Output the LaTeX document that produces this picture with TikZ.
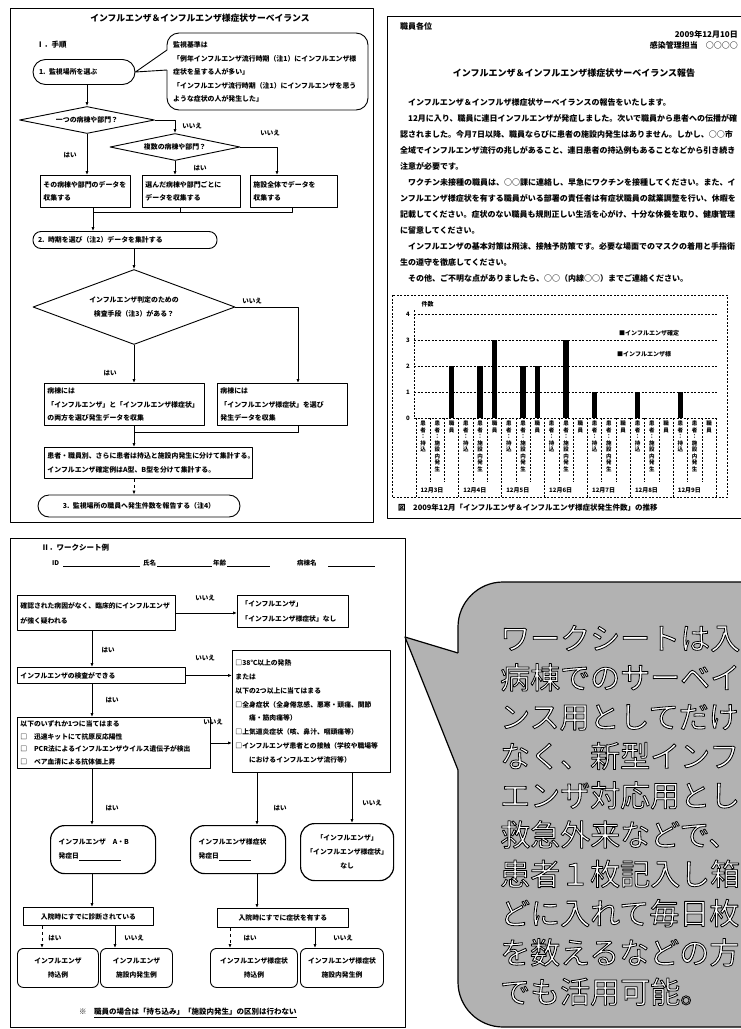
\documentclass[tikz,border=0pt]{standalone}
\usepackage{fontspec}
\setmainfont{Noto Sans CJK JP}
\usetikzlibrary{shapes.geometric,shapes.misc,arrows.meta}
\newcommand{\catA}{患\\者\\：\\持\\込}
\newcommand{\catB}{患\\者\\：\\施\\設\\内\\発\\生}
\newcommand{\catC}{職\\員}
\begin{document}
\begin{tikzpicture}[x=1pt,y=-1pt,line join=round,
  ln/.style={line width=0.9pt},
  frm/.style={line width=0.8pt},
  ftx/.style={font=\fontsize{6.9}{13.5}\selectfont\bfseries},
  bx/.style={draw,line width=0.9pt,anchor=north west,inner xsep=3pt,inner ysep=0pt,align=left,ftx},
  wbx/.style={bx,font=\fontsize{6.8}{13.3}\selectfont\bfseries},
  lbl/.style={font=\fontsize{6.5}{7}\selectfont\bfseries,inner sep=1pt},
  arr/.style={line width=0.8pt,-{Latex[length=4pt,width=3.2pt]}},
  dsh/.style={line width=0.6pt,dash pattern=on 2pt off 1.5pt},
  rtx/.style={font=\fontsize{8}{16}\selectfont\bfseries,inner sep=0pt},
  cat/.style={anchor=north,align=center,inner sep=0pt,font=\fontsize{5.5}{6.5}\selectfont\bfseries},
  dia/.style={draw,diamond,line width=0.9pt,inner sep=0pt}]
\useasboundingbox (0,0) rectangle (741,1029);
\clip (0,0) rectangle (741,1029);
\fill[white] (0,0) rectangle (741,1029);

% ================= top-left panel =================
\draw[frm] (10,8) rectangle (373,522);
\node[font=\fontsize{8.8}{10}\selectfont\bfseries] (t1) at (200,18) {インフルエンザ＆インフルエンザ様症状サーベイランス};
\node[font=\fontsize{7.5}{9}\selectfont\bfseries,anchor=west] (h1) at (33,45) {Ⅰ．手順};

\node[draw,ln,rectangle,rounded corners=12.5pt,minimum width=102pt,minimum height=25pt,text width=90pt,inner xsep=6pt,inner ysep=0pt,align=left,ftx] (s1) at (84,72) {1. 監視場所を選ぶ};
\draw[ln,rounded corners=12pt] (167,70) -- (167,110) -- (368,110) -- (368,33) -- (167,33) -- (167,50);
\draw[ln] (167,50) -- (s1.east) -- (167,70);
\node[ftx,anchor=west,align=left,inner sep=0pt] (cot) at (173,72) {監視基準は\\「例年インフルエンザ流行時期（注1）にインフルエンザ様\\症状を呈する人が多い」\\「インフルエンザ流行時期（注1）にインフルエンザを思う\\ような症状の人が発生した」};

\node[dia,minimum width=135pt,minimum height=27pt,label={[ftx]center:一つの病棟や部門？}] (d1) at (87,120) {};
\node[dia,minimum width=130pt,minimum height=27pt,label={[ftx]center:複数の病棟や部門？}] (d2) at (175,147) {};

\node[bx,minimum width=90pt,minimum height=32pt,text width=84pt] (b1) at (40,175) {その病棟や部門のデータを\\収集する};
\node[bx,minimum width=98pt,minimum height=32pt,text width=92pt] (b2) at (142,175) {選んだ病棟や部門ごとに\\データを収集する};
\node[bx,minimum width=87pt,minimum height=32pt,text width=81pt] (b3) at (250,175) {施設全体でデータを\\収集する};

\coordinate (x3) at (277,0);
\draw[arr] (s1.south -| d1.north) -- (d1.north);
\draw[arr] (d1.east) -| (d2.north);
\draw[arr] (d1.south) -- (d1.south |- b1.north);
\draw[arr] (d2.south) -- (d2.south |- b2.north);
\draw[arr] (d2.east) -| (x3 |- b3.north);
\node[lbl] (l1) at (192,126) {いいえ};
\node[lbl] (l2) at (270,133) {いいえ};
\node[lbl] (l3) at (70,155) {はい};
\node[lbl] (l4) at (200,168) {はい};

\node[draw,ln,rectangle,rounded corners=8pt,minimum width=184pt,minimum height=17pt,text width=174pt,inner xsep=5pt,inner ysep=0pt,align=left,ftx] (s2) at (125,240) {2. 時期を選び（注2）データを集計する};
\coordinate (m1) at (93,212);
\coordinate (x2b) at (180,0);
\coordinate (x3b) at (292,0);
\draw[ln] (b3.south -| x3b) -- (x3b |- m1) -- (m1);
\draw[ln] (b2.south -| x2b) -- (x2b |- m1);
\draw[arr] (b1.south -| m1) -- (s2.north -| m1);

\node[dia,minimum width=202pt,minimum height=75pt,label={[ftx,align=center]center:インフルエンザ判定のための\\検査手段（注3）がある？}] (d3) at (134,307) {};
\draw[arr] (s2.south -| d3.north) -- (d3.north);

\node[bx,minimum width=160pt,minimum height=42pt,text width=154pt] (bl) at (44,383) {病棟には\\「インフルエンザ」と「インフルエンザ様症状」\\の両方を選び発生データを収集};
\node[bx,minimum width=130pt,minimum height=42pt,text width=124pt] (br) at (217,383) {病棟には\\「インフルエンザ様症状」を選び\\発生データを収集};
\coordinate (xr) at (298,0);
\draw[arr] (d3.east) -| (xr |- br.north);
\draw[arr] (d3.south) -- (d3.south |- bl.north);
\node[lbl] (l5) at (252,301) {いいえ};
\node[lbl] (l6) at (110,373) {はい};

\node[bx,minimum width=208pt,minimum height=31pt,text width=202pt] (b4) at (44,447) {患者・職員別、さらに患者は持込と施設内発生に分けて集計する。\\インフルエンザ確定例はA型、B型を分けて集計する。};
\coordinate (m2) at (134,432);
\draw[ln] (br.south -| xr) -- (xr |- m2) -- (m2);
\draw[arr] (bl.south -| m2) -- (b4.north -| m2);
\node[draw,ln,rectangle,rounded corners=11pt,minimum width=202pt,minimum height=22pt,text width=190pt,inner xsep=6pt,inner ysep=0pt,align=center,ftx] (s3) at (139,506) {3. 監視場所の職員へ発生件数を報告する（注4）};
\draw[arr,dashed] (b4.south -| m2) -- (s3.north -| m2);

% ================= top-right panel =================
\draw[frm] (387,16) -- (745,16);
\draw[frm] (745,518) -- (387,518) -- (387,16);
\node[rtx,anchor=west] (r0) at (400,26) {職員各位};
\node[rtx,anchor=east] (r1) at (738,34) {2009年12月10日};
\node[rtx,anchor=east] (r2) at (738,45) {感染管理担当　○○○○};
\node[font=\fontsize{9}{10}\selectfont\bfseries] (r3) at (574,73) {インフルエンザ＆インフルエンザ様症状サーベイランス報告};
\node[rtx,anchor=north west,align=left] (body) at (400,98) {　インフルエンザ＆インフルザ様症状サーベイランスの報告をいたします。\\
　12月に入り、職員に連日インフルエンザが発症しました。次いで職員から患者への伝播が確\\
認されました。今月7日以降、職員ならびに患者の施設内発生はありません。しかし、○○市\\
全域でインフルエンザ流行の兆しがあること、連日患者の持込例もあることなどから引き続き\\
注意が必要です。\\
　ワクチン未接種の職員は、○○課に連絡し、早急にワクチンを接種してください。また、イ\\
ンフルエンザ様症状を有する職員がいる部署の責任者は有症状職員の就業調整を行い、休暇を\\
記載してください。症状のない職員も規則正しい生活を心がけ、十分な休養を取り、健康管理\\
に留意してください。\\
　インフルエンザの基本対策は飛沫、接触予防策です。必要な場面でのマスクの着用と手指衛\\
生の遵守を徹底してください。\\
　その他、ご不明な点がありましたら、○○（内線○○）までご連絡ください。};

% chart
\draw[dsh] (392,295) rectangle (727,497);
\node[font=\fontsize{6}{7}\selectfont\bfseries,anchor=west] (unit) at (418,304) {件数};
\foreach \v in {0,...,4} {
  \draw[dsh] (414,418-26*\v) -- (717,418-26*\v);
  \node[font=\fontsize{6}{7}\selectfont\bfseries,anchor=east,inner sep=1pt] (yl\v) at (411,418-26*\v) {\v};
}
\draw[dsh] (414,310) -- (414,418);
\foreach \j in {0,...,21} {\draw[dsh] (415.85+14.3*\j,418) -- (415.85+14.3*\j,482);}
\foreach \g in {0,...,7} {\draw[dsh] (415.85+42.9*\g,418) -- (415.85+42.9*\g,497);}
\foreach \j/\v in {2/2,4/2,5/3,7/2,8/2,10/3,12/1,15/1,18/1} {
  \fill (423+14.3*\j-2.8,418) rectangle (423+14.3*\j+2.8,418-26*\v);
}
\foreach \g in {0,...,6} {
  \node[cat] (ca\g) at (423+42.9*\g,421) {\catA};
  \node[cat] (cb\g) at (437.3+42.9*\g,421) {\catB};
  \node[cat] (cc\g) at (451.6+42.9*\g,421) {\catC};
}
\foreach \g/\dnum in {0/3,1/4,2/5,3/6,4/7,5/8,6/9} {
  \node[font=\fontsize{6}{7}\selectfont\bfseries,inner sep=1pt] (dt\g) at (432+42.9*\g,490) {12月\dnum 日};
}
\node[font=\fontsize{6}{7}\selectfont\bfseries,anchor=west,fill=white,inner sep=1pt] (lg1) at (618,333) {■インフルエンザ確定};
\node[font=\fontsize{6}{7}\selectfont\bfseries,anchor=west,fill=white,inner sep=1pt] (lg2) at (616,354) {■インフルエンザ様};
\node[font=\fontsize{7.5}{9}\selectfont\bfseries,anchor=west,inner sep=0pt] (cap) at (398,508) {図　2009年12月「インフルエンザ＆インフルエンザ様症状発生件数」の推移};

% ================= bottom-left panel =================
\draw[frm] (10,538) rectangle (405,1027);
\node[font=\fontsize{7.5}{9}\selectfont\bfseries,anchor=west] (h2) at (38,548) {Ⅱ．ワークシート例};
\node[lbl,anchor=west] (id) at (51,563) {ID};
\draw[line width=0.7pt] (63,566) -- (140,566);
\node[lbl,anchor=west] (nm) at (142,563) {氏名};
\draw[line width=0.7pt] (157,566) -- (212,566);
\node[lbl,anchor=west] (ag) at (212,563) {年齢};
\draw[line width=0.7pt] (227,566) -- (270,566);
\node[lbl,anchor=west] (wd) at (296,563) {病棟名};
\draw[line width=0.7pt] (328,566) -- (375,566);

\node[wbx,minimum width=158pt,minimum height=35pt,text width=152pt,font=\fontsize{6.8}{15}\selectfont\bfseries] (wa) at (17,595) {確認された病因がなく、臨床的にインフルエンザ\\が強く疑われる};
\node[wbx,minimum width=111pt,minimum height=32pt,text width=103pt,inner xsep=4pt,font=\fontsize{6.8}{15}\selectfont\bfseries] (wb) at (237,595) {「インフルエンザ」\\「インフルエンザ様症状」なし};
\node[wbx,minimum width=168pt,minimum height=16pt,text width=162pt] (wc) at (17,667) {インフルエンザの検査ができる};
\node[wbx,minimum width=158pt,minimum height=122pt,text width=152pt,font=\fontsize{6.8}{13.8}\selectfont\bfseries] (wdx) at (232,650) {□38℃以上の発熱\\または\\以下の2つ以上に当てはまる\\□全身症状（全身倦怠感、悪寒・頭痛、関節\\　　痛・筋肉痛等）\\□上気道炎症状（咳、鼻汁、咽頭痛等）\\□インフルエンザ患者との接触（学校や職場等\\　　におけるインフルエンザ流行等）};
\node[wbx,minimum width=193pt,minimum height=51pt,text width=187pt,font=\fontsize{6.8}{12.5}\selectfont\bfseries] (we) at (17,717) {以下のいずれか1つに当てはまる\\□　迅速キットにて抗原反応陽性\\□　PCR法によるインフルエンザウイルス遺伝子が検出\\□　ペア血清による抗体価上昇};
\node[wbx,rounded corners=14pt,line width=1.2pt,minimum width=105pt,minimum height=48pt,text width=89pt,inner xsep=8pt,font=\fontsize{6.8}{14}\selectfont\bfseries] (wf) at (50,825) {インフルエンザ　A・B\\発症日\underline{\hspace{42pt}}};
\node[wbx,rounded corners=14pt,line width=1.2pt,minimum width=95pt,minimum height=48pt,text width=79pt,inner xsep=8pt,font=\fontsize{6.8}{14}\selectfont\bfseries] (wg) at (190,825) {インフルエンザ様症状\\発症日\underline{\hspace{32pt}}};
\node[wbx,rounded corners=14pt,line width=1.2pt,minimum width=93pt,minimum height=57pt,text width=87pt,align=center,font=\fontsize{6.8}{14}\selectfont\bfseries] (wh) at (300,823) {「インフルエンザ」\\「インフルエンザ様症状」\\なし};
\node[wbx,minimum width=130pt,minimum height=18pt,text width=124pt,align=center] (wi) at (23,907) {入院時にすでに診断されている};
\node[wbx,minimum width=131pt,minimum height=19pt,text width=125pt,align=center] (wj) at (217,908) {入院時にすでに症状を有する};
\node[wbx,rounded corners=6pt,minimum width=81pt,minimum height=39pt,text width=75pt,align=center,font=\fontsize{6.8}{14}\selectfont\bfseries] (wk) at (17,948) {インフルエンザ\\持込例};
\node[wbx,rounded corners=6pt,minimum width=72pt,minimum height=39pt,text width=66pt,align=center,font=\fontsize{6.8}{14}\selectfont\bfseries] (wl) at (100,948) {インフルエンザ\\施設内発生例};
\node[wbx,rounded corners=6pt,minimum width=87pt,minimum height=39pt,text width=81pt,align=center,font=\fontsize{6.8}{14}\selectfont\bfseries] (wm) at (210,948) {インフルエンザ様症状\\持込例};
\node[wbx,rounded corners=6pt,minimum width=83pt,minimum height=39pt,text width=77pt,align=center,font=\fontsize{6.8}{14}\selectfont\bfseries] (wn) at (300,948) {インフルエンザ様症状\\施設内発生例};

\coordinate (xL) at (92,0);
\coordinate (xG) at (257,0);
\coordinate (xH) at (352,0);
\coordinate (xk) at (42,0);
\coordinate (xl) at (115,0);
\coordinate (xm) at (230,0);
\coordinate (xn) at (315,0);
\draw[arr] (wa.east) -- (wa.east -| wb.west);
\draw[arr] (wa.south -| xL) -- (wc.north -| xL);
\draw[arr] (wc.east) -- (wc.east -| wdx.west);
\draw[arr] (wc.south -| xL) -- (we.north -| xL);
\draw[arr] (we.east) -- (we.east -| wdx.west);
\draw[arr] (we.south -| xL) -- (wf.north -| xL);
\draw[arr] (wdx.south -| xG) -- (wg.north -| xG);
\draw[arr] (wdx.south -| xH) -- (wh.north -| xH);
\draw[arr] (wf.south -| xL) -- (wi.north -| xL);
\draw[arr] (wg.south -| xG) -- (wj.north -| xG);
\draw[arr,dashed] (wi.south -| xk) -- (wk.north -| xk);
\draw[arr] (wi.south -| xl) -- (wl.north -| xl);
\draw[arr,dashed] (wj.south -| xm) -- (wm.north -| xm);
\draw[arr] (wj.south -| xn) -- (wn.north -| xn);
\node[lbl] (w1) at (205,598) {いいえ};
\node[lbl] (w2) at (108,650) {はい};
\node[lbl] (w3) at (205,658) {いいえ};
\node[lbl] (w4) at (112,700) {はい};
\node[lbl] (w5) at (213,722) {いいえ};
\node[lbl] (w6) at (112,808) {はい};
\node[lbl] (w7) at (280,808) {はい};
\node[lbl] (w8) at (372,803) {いいえ};
\node[lbl] (w9) at (55,938) {はい};
\node[lbl] (w10) at (134,938) {いいえ};
\node[lbl] (w11) at (250,938) {はい};
\node[lbl] (w12) at (343,938) {いいえ};
\node[font=\fontsize{7.5}{9}\selectfont\bfseries,anchor=west,inner sep=0pt] (note) at (79,1013) {※　\underline{職員の場合は「持ち込み」「施設内発生」の区別は行わない}};

% ================= big callout =================
\fill[black!30,rounded corners=45pt] (458,582) rectangle (800,1027);
\draw[line width=1.2pt,rounded corners=45pt] (458,582) rectangle (800,1027);
\fill[black!30] (405,637) -- (458,653) -- (461,653) -- (461,770) -- (458,770) -- cycle;
\draw[line width=1.2pt] (458,653) -- (405,637) -- (458,770);
\node[anchor=north west,inner sep=0pt,align=left,text=white,font=\fontsize{30}{39.3}\selectfont] (bigt) at (500,625) {\special{pdf:literal 0 G 2 Tr 0.8 w}ワークシートは入\\病棟でのサーベイ\\ンス用としてだけ\\なく、新型インフ\\エンザ対応用とし\\救急外来などで、\\患者１枚記入し箱\\どに入れて毎日枚\\を数えるなどの方\\でも活用可能。\special{pdf:literal 0 Tr}};
\end{tikzpicture}
\end{document}
